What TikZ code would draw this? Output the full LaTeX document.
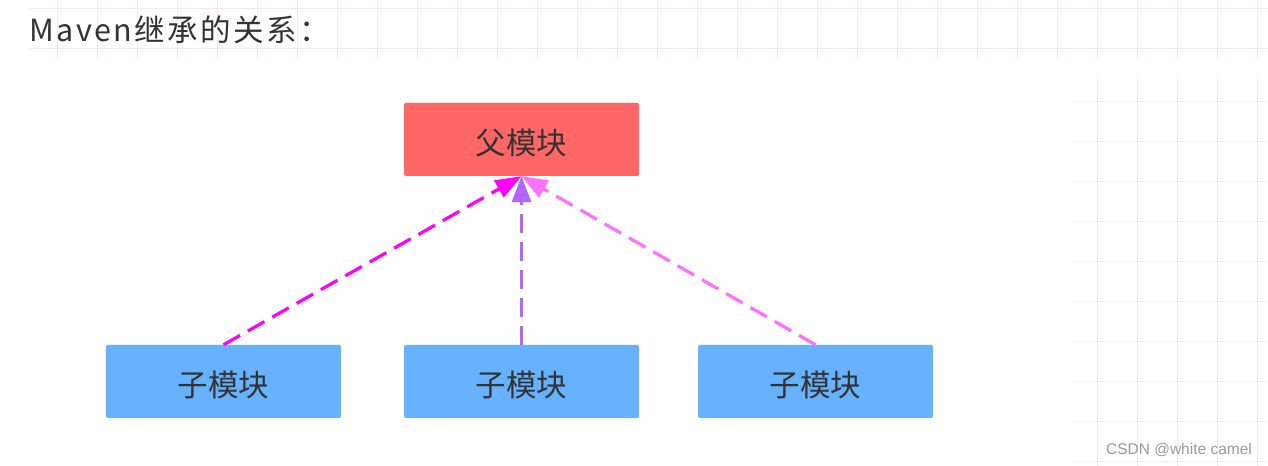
\documentclass[tikz,border=0pt]{standalone}
\usepackage{fontspec}
\usetikzlibrary{arrows.meta}
\newfontfamily\cjk{Noto Sans CJK SC}
\newfontfamily\cjktitle[LetterSpace=8]{Noto Sans CJK SC}
\newfontfamily\wmfont{Liberation Sans}
\definecolor{parentred}{HTML}{FF6666}
\definecolor{childblue}{HTML}{66B2FF}
\definecolor{arrowA}{HTML}{FF00FF}
\definecolor{arrowB}{HTML}{B266FF}
\definecolor{arrowC}{HTML}{FF70FF}
\definecolor{txtgray}{HTML}{333333}
\definecolor{gridpink}{HTML}{F2E8EC}
\definecolor{gridgray}{HTML}{ECECEC}
\definecolor{wmgray}{HTML}{9A9A9A}
\newcommand{\boxlabel}[1]{\raisebox{-3.5bp}[\height][\depth]{#1}}
\tikzset{
  modbox/.style={rectangle, rounded corners=1.5bp, minimum width=235bp, minimum height=73bp, inner sep=0pt, font=\cjk\fontsize{30.5bp}{32bp}\selectfont, text=txtgray},
  parentbox/.style={modbox, fill=parentred},
  childbox/.style={modbox, fill=childblue},
  inherit/.style={line width=3.2bp, dash pattern=on 19bp off 9bp, -{Triangle[length=26bp,width=19bp]}},
}
\begin{document}
\begin{tikzpicture}[x=1bp,y=-1bp]
\useasboundingbox (0,0) rectangle (1268,466);
\fill[white] (0,0) rectangle (1268,466);
% title grid
\foreach \yy in {8,48} \draw[gridpink, line width=0.8bp] (30,\yy) -- (1268,\yy);
\foreach \xx in {57,97,...,1257} \draw[gridpink, line width=0.8bp] (\xx,0) -- (\xx,58);
% right grid
\foreach \yy in {101,141,...,461} \draw[gridgray, line width=0.8bp] (1072,\yy) -- (1268,\yy);
\foreach \xx in {1097,1137,...,1257} \draw[gridgray, line width=0.8bp] (\xx,79) -- (\xx,466);
% title
\node[anchor=west, inner sep=0pt, text=txtgray, font=\cjktitle\fontsize{30.5bp}{32bp}\selectfont] (title) at (29,30) {Maven继承的关系：};
% boxes
\node[parentbox] (parent) at (521.5,139.5) {\boxlabel{父模块}};
\node[childbox] (c1) at (223.5,381.5) {\boxlabel{子模块}};
\node[childbox] (c2) at (521.5,381.5) {\boxlabel{子模块}};
\node[childbox] (c3) at (815.5,381.5) {\boxlabel{子模块}};
% arrows
\draw[inherit, arrowA] (c1.north) -- (parent.south);
\draw[inherit, arrowB] (c2.north) -- (parent.south);
\draw[inherit, arrowC] (c3.north) -- (parent.south);
% watermark
\node[text=wmgray, inner sep=0pt, font=\wmfont\fontsize{15.5bp}{17bp}\selectfont] (wm) at (1179,450) {CSDN @white camel};
\end{tikzpicture}
\end{document}
